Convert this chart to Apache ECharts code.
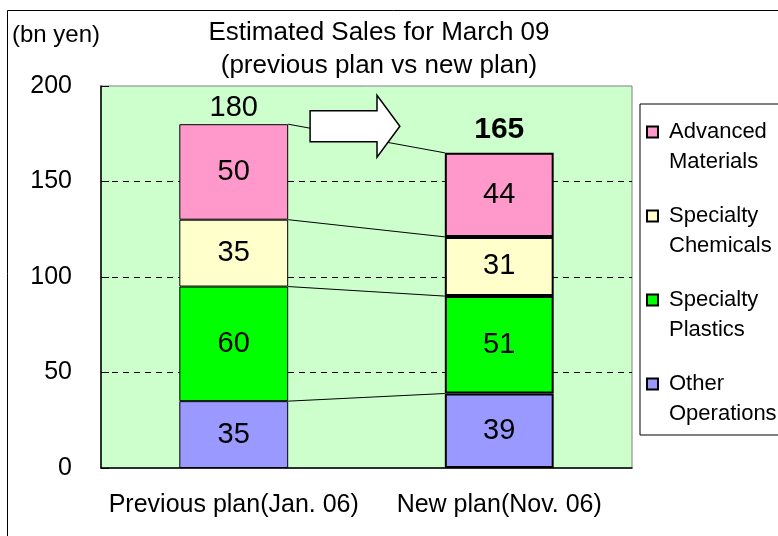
<!DOCTYPE html>
<html>
<head>
<meta charset="utf-8">
<script src="https://cdn.jsdelivr.net/npm/echarts@6/dist/echarts.min.js"></script>
<style>
  html, body { margin: 0; padding: 0; background: #fff; }
  #chart { width: 778px; height: 536px; }
</style>
</head>
<body>
<div id="chart"></div>
<script>
const categories = ['Previous plan(Jan. 06)', 'New plan(Nov. 06)'];
const segmentNames = ['Other Operations', 'Specialty Plastics', 'Specialty Chemicals', 'Advanced Materials'];
const segmentColors = ['#9999FF', '#00FF00', '#FFFFCC', '#FF99CC'];
// values per segment, bottom to top: [previous plan, new plan]
const otherOps = [35, 39];
const plastics = [60, 51];
const chemicals = [35, 31];
const advanced = [50, 44];
const totals = [180, 165];
const yTicks = { min: 0, max: 200, interval: 50 };

const segments = [otherOps, plastics, chemicals, advanced];
const barShare = 0.41;

// running tops of each segment for the connecting lines
const tops = [[], []];
[0, 1].forEach(c => {
  let sum = 0;
  segments.forEach(s => { sum += s[c]; tops[c].push(sum); });
});
const links = tops[0].map((v, i) => [i, v, tops[1][i]]);

const font = "'Liberation Sans', Arial, sans-serif";

const barSeries = segments.map((vals, i) => ({
  name: segmentNames[i],
  type: 'bar',
  stack: 'sales',
  barWidth: (barShare * 100) + '%',
  itemStyle: { color: segmentColors[i], borderColor: '#000', borderWidth: 1 },
  label: { show: true, position: 'inside', color: '#000', fontSize: 29, fontFamily: font },
  data: vals.map((v, c) => c === 1 ? { value: v, itemStyle: { borderWidth: 2 } } : v)
}));

const chart = echarts.init(document.getElementById('chart'));
chart.setOption({
  animation: false,
  backgroundColor: '#fff',
  textStyle: { fontFamily: font, color: '#000' },
  title: [
    {
      text: 'Estimated Sales for March 09\n(previous plan vs new plan)',
      left: 379, top: 16, textAlign: 'center', padding: 0,
      textStyle: { fontSize: 26, fontWeight: 'normal', lineHeight: 33, color: '#000', fontFamily: font }
    },
    {
      text: '(bn yen)', left: 12, top: 23, padding: 0,
      textStyle: { fontSize: 24, fontWeight: 'normal', lineHeight: 24, color: '#000', fontFamily: font }
    }
  ],
  graphic: [{
    type: 'rect', silent: true, z: -1,
    shape: { x: 7.5, y: 10.5, width: 800, height: 600 },
    style: { fill: 'none', stroke: '#000', lineWidth: 1 }
  }],
  legend: {
    data: segmentNames.slice().reverse(),
    orient: 'vertical',
    left: 640, top: 104,
    padding: [13, 40, 6, 6],
    itemGap: 24,
    itemWidth: 11, itemHeight: 41,
    icon: 'path://M0,0L10,0L10,10L0,10Z M0,37.3',
    backgroundColor: '#fff',
    borderColor: '#000', borderWidth: 1,
    formatter: name => name.replace(' ', '\n'),
    textStyle: { fontSize: 22, lineHeight: 30, color: '#000', fontFamily: font, padding: [0, 0, 0, 6] }
  },
  grid: {
    left: 101, right: 146, top: 86, bottom: 68,
    show: true, backgroundColor: '#CCFFCC', borderColor: '#808080', borderWidth: 1
  },
  xAxis: {
    type: 'category',
    data: categories,
    axisLine: { lineStyle: { color: '#000', width: 1.5 } },
    axisTick: { inside: true, length: 6, lineStyle: { color: '#000' } },
    axisLabel: { interval: 0, fontSize: 25, color: '#000', margin: 25, fontFamily: font }
  },
  yAxis: {
    type: 'value',
    min: yTicks.min, max: yTicks.max, interval: yTicks.interval,
    axisLine: { show: true, lineStyle: { color: '#000', width: 1.5 } },
    axisTick: { show: true, inside: true, length: 8, lineStyle: { color: '#000' } },
    axisLabel: { fontSize: 25, color: '#000', margin: 29, fontFamily: font },
    splitLine: {
      show: true, showMinLine: false, showMaxLine: false,
      lineStyle: { color: '#000', type: [6, 5], width: 1 }
    }
  },
  series: [
    ...barSeries,
    {
      // totals above each bar
      type: 'scatter',
      symbolSize: 0,
      silent: true,
      z: 4,
      itemStyle: { opacity: 1 },
      label: {
        show: true, position: 'top', distance: 1, color: '#000',
        fontSize: 29, lineHeight: 30, fontFamily: font,
        formatter: p => String(p.value)
      },
      data: [
        totals[0],
        { value: totals[1], label: { fontWeight: 'bold', fontSize: 30, distance: 8 } }
      ]
    },
    {
      // thin lines joining matching segment tops
      type: 'custom',
      silent: true,
      z: 3,
      encode: { x: 0, y: [1, 2] },
      renderItem: (params, api) => {
        const p0 = api.coord([0, api.value(1)]);
        const p1 = api.coord([1, api.value(2)]);
        const half = api.size([1, 0])[0] * barShare / 2;
        return {
          type: 'line',
          shape: { x1: p0[0] + half, y1: p0[1], x2: p1[0] - half, y2: p1[1] },
          style: { stroke: '#000', lineWidth: 1 }
        };
      },
      data: links
    },
    {
      // block arrow from previous total toward new total
      type: 'custom',
      silent: true,
      z: 6,
      encode: { x: 0, y: 1 },
      renderItem: (params, api) => {
        const p0 = api.coord([0, api.value(1)]);
        const p1 = api.coord([1, api.value(1)]);
        const half = api.size([1, 0])[0] * barShare / 2;
        const x0 = p0[0] + half, gap = (p1[0] - half) - x0;
        const cy = p0[1] + 2;
        const xl = x0 + gap * 0.14, xh = x0 + gap * 0.567, xt = x0 + gap * 0.713;
        return {
          type: 'polygon',
          shape: { points: [
            [xl, cy - 15.5], [xh, cy - 15.5], [xh, cy - 31], [xt, cy],
            [xh, cy + 31], [xh, cy + 15.5], [xl, cy + 15.5]
          ] },
          style: { fill: '#fff', stroke: '#000', lineWidth: 1.5 }
        };
      },
      data: [[0, totals[0]]]
    }
  ]
});
</script>
</body>
</html>
